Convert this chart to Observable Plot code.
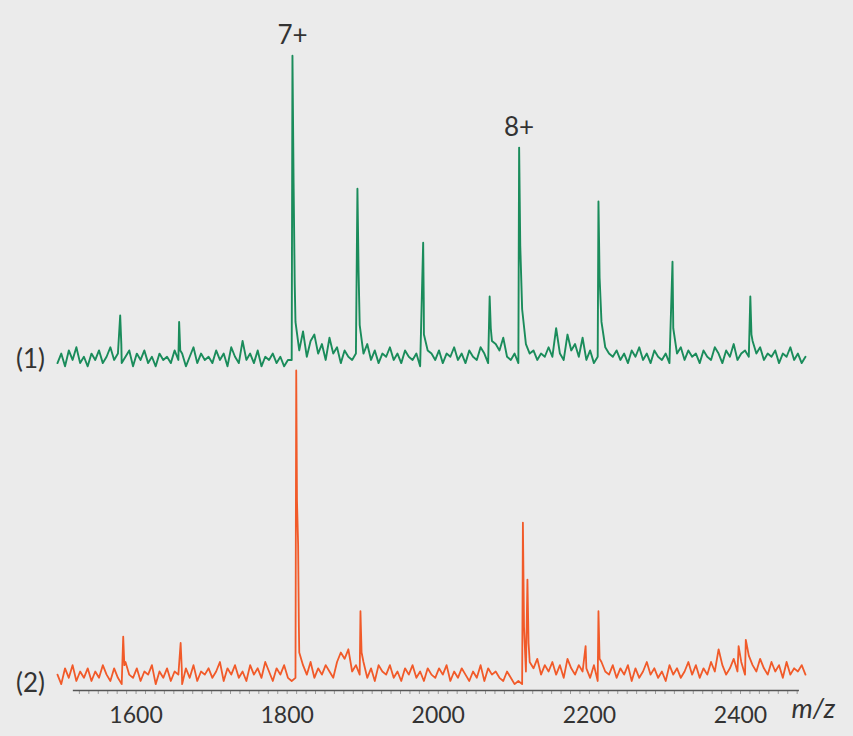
<!DOCTYPE html>
<html><head><meta charset="utf-8">
<script src="https://cdn.jsdelivr.net/npm/d3@7"></script>
<script src="https://cdn.jsdelivr.net/npm/@observablehq/plot@0.6"></script>
<style>
html,body{margin:0;padding:0;background:#ebebeb;}
#chart{width:853px;height:736px;}
</style></head><body><div id="chart"></div>
<script>
// m/z sampling grid of the noise arrays
const gridStart = 1496, gridStep = 5;

// spectrum (1): baseline noise (relative intensity, %)
const greenNoise = [
  3,6,2,7,4,8,3,5,2,6,
  4,7,3,5,8,4,6,3,5,7,
  2,6,4,7,3,5,2,6,4,5,
  3,7,4,6,2,5,8,3,6,4,
  5,3,7,4,6,2,8,5,3,10,
  4,6,3,7,2,5,4,6,3,5,
  2,4,4,16,7,13,5,10,12,6,
  9,4,11,6,8,3,7,5,4,6,
  15,6,9,4,7,3,6,5,8,4,
  6,3,7,5,4,6,2,12,7,6,
  4,7,3,6,5,8,4,6,3,7,
  5,4,8,6,3,10,9,7,11,5,
  4,6,3,20,9,6,7,4,6,5,
  8,5,14,6,4,12,7,9,5,11,
  4,7,3,5,16,8,6,5,7,4,
  6,3,7,5,8,4,6,3,7,5,
  4,6,3,14,6,8,4,7,5,6,
  3,7,5,4,8,6,3,7,5,9,
  4,6,7,5,10,6,8,4,6,5,
  7,3,6,5,8,4,6,3,5
];
// spectrum (1): peaks [m/z, intensity]
const greenPeaks = [
  [1579,18],[1580.5,9],
  [1657,16],[1658.5,7],
  [1807,100],[1808.5,60],[1810,28],
  [1893,58],[1894.5,32],
  [1980,41],[1980.8,22],
  [2068,24],[2069.5,14],
  [2107,71],[2108.5,40],
  [2212,54],[2213.5,30],
  [2310,35],[2310.8,19],
  [2413,24],[2414.5,12]
];

// spectrum (2): baseline noise
const orangeNoise = [
  5,2,7,4,8,3,6,4,7,3,
  6,4,8,5,3,7,4,2,9,5,
  4,7,3,6,5,8,2,6,4,7,
  3,6,5,2,7,4,8,3,6,5,
  7,4,6,9,3,7,5,8,4,6,
  3,8,5,7,4,9,6,3,7,5,
  8,4,3,4,12,8,5,9,4,7,
  5,8,6,4,9,12,10,13,6,8,
  5,9,4,7,3,8,6,5,8,4,
  6,3,7,5,8,4,6,3,7,5,
  4,7,5,8,3,6,4,7,5,3,
  6,4,8,3,7,5,6,4,3,6,
  4,2,3,2,6,9,7,10,5,8,
  6,9,5,8,4,10,7,5,8,6,
  7,4,8,3,9,6,5,8,4,7,
  5,8,3,7,4,6,9,5,7,4,
  6,3,8,5,7,4,6,9,5,8,
  4,7,5,9,6,13,8,5,7,10,
  6,9,5,11,8,6,10,7,5,9,
  6,8,4,9,5,7,6,8,5
];
// spectrum (2): peaks [m/z, intensity]
const orangePeaks = [
  [1583,17],[1584.5,8],
  [1659,15],[1660.5,7],
  [1812,101],[1813,60],[1814.5,46],[1815.5,20],
  [1897,25],[1898.5,12],
  [2112,53],[2113.5,20],[2118,35],[2119.5,15],
  [2195,14],
  [2212,25],[2213.5,10],
  [2397.5,14],
  [2407,16]
];

const majorTicks = [1600,1800,2000,2200,2400];
const chargeLabels = ["7+","8+"];
const chargeMz = [1807,2107];
const chargeIntensity = [100,71];
const spectrumNames = ["(1)","(2)"];

// layout: spectrum (1) is stacked above spectrum (2)
const greenOffset = 100.3;
const axisStart = 1517, axisEnd = 2478;

function build(noise, peaks, offset) {
  const pts = noise.map((v, i) => ({mz: gridStart + gridStep * i, y: v + offset}));
  for (const [mz, v] of peaks) pts.push({mz, y: v + offset});
  pts.sort((a, b) => a.mz - b.mz);
  return pts;
}
const green = build(greenNoise, greenPeaks, greenOffset);
const orange = build(orangeNoise, orangePeaks, 0);

const charges = chargeLabels.map((t, i) => ({t, mz: chargeMz[i], y: chargeIntensity[i] + greenOffset}));
const names = spectrumNames.map((t, i) => ({t, y: (i === 0 ? greenOffset + 4 : 2)}));

const font = "Lato, 'Open Sans', sans-serif";
const chart = Plot.plot({
  width: 853, height: 736,
  marginLeft: 60, marginRight: 45, marginTop: 20, marginBottom: 46,
  style: {background: "#ebebeb", fontFamily: font, color: "#333"},
  x: {domain: [1500, 2490], axis: null, label: null},
  y: {domain: [0, 211.4], axis: null, label: null},
  marks: [
    Plot.axisX(d3.range(1525, 2476, 12.5), {tickSize: 4, tickFormat: () => "", stroke: "#9a9a9a", label: null}),
    Plot.ruleY([0], {x1: axisStart, x2: axisEnd, stroke: "#555", strokeWidth: 1.6}),
    Plot.axisX(majorTicks, {tickSize: 0, tickPadding: 16, fontSize: 23, fill: "#333", label: null, tickFormat: d => String(d)}),
    Plot.line(orange, {x: "mz", y: "y", stroke: "#f15a29", strokeWidth: 1.8, strokeLinejoin: "round"}),
    Plot.line(green, {x: "mz", y: "y", stroke: "#1a8c5b", strokeWidth: 1.9, strokeLinejoin: "round"}),
    Plot.text(charges, {x: "mz", y: "y", text: "t", dy: -12, lineAnchor: "bottom", fontSize: 26, fill: "#333"}),
    Plot.text(names, {y: "y", text: "t", frameAnchor: "left", textAnchor: "middle", dx: -30, fontSize: 26, fill: "#333"}),
    Plot.text(["m/z"], {frameAnchor: "bottom-right", text: d => d, textAnchor: "start", dx: -17, dy: 27, fontSize: 27, fontStyle: "italic", fill: "#333"})
  ]
});
document.getElementById("chart").appendChild(chart);
</script></body></html>
